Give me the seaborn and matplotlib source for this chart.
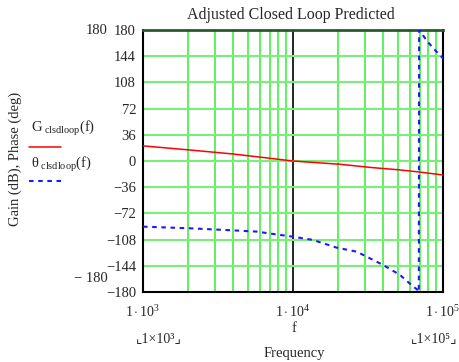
import numpy as np
import pandas as pd
import matplotlib
matplotlib.use("Agg")
import matplotlib.pyplot as plt
import seaborn as sns

# ---- data ----
freq_gain = [1000, 2060, 4000, 7030, 10000, 20600, 34300, 50000, 66800, 100000]
gain_db = [20.8, 15.1, 9.6, 3.7, 0.0, -4.5, -9.2, -12.0, -14.7, -19.2]

freq_phase = [1000, 2060, 2940, 4430, 5730, 7400, 10000, 13600, 19500, 26600, 31000, 40000,
              51700, 63400, 66800, 69000, 69300, 70300, 79000, 86000, 100000]
phase_deg = [-90.2, -92.5, -94.0, -95.8, -97.0, -100.3, -104.0, -108.5, -119.0, -124.6, -131.5,
             -143.0, -156.6, -172.7, -176.0, -180.0, 180.0, 178.0, 164.0, 155.0, 141.0]

y_ticks = [-180, -144, -108, -72, -36, 0, 36, 72, 108, 144, 180]
y_tick_labels = ["\u2212180", "\u2212144", "\u2212108", "\u221272", "\u221236", "0",
                 "36", "72", "108", "144", "180"]
x_ticks = [1e3, 1e4, 1e5]
x_tick_labels = [r"$\mathrm{1\cdot10^{3}}$", r"$\mathrm{1\cdot10^{4}}$", r"$\mathrm{1\cdot10^{5}}$"]

sns.set_style("white")
plt.rcParams["font.family"] = ["Liberation Serif", "DejaVu Sans"]
plt.rcParams["mathtext.fontset"] = "custom"
plt.rcParams["mathtext.rm"] = "Liberation Serif"
plt.rcParams["mathtext.it"] = "Liberation Serif:italic"

W, H = 460, 362
fig = plt.figure(figsize=(W / 100, H / 100), dpi=100)
L, R, T, B = 143, 443, 30, 292
ax = fig.add_axes([L / W, (H - B) / H, (R - L) / W, (B - T) / H])

gdf = pd.DataFrame({"f": freq_gain, "v": gain_db})
pdf = pd.DataFrame({"f": freq_phase, "v": phase_deg})

ax.set_xscale("log")
ax.set_xlim(1e3, 1e5)
ax.set_ylim(-180, 180)

# grid
minor = [m * 10 ** e for e in (3, 4) for m in range(2, 10)]
for xv in minor:
    ax.axvline(xv, color="#44ee44", lw=1.2, zorder=1)
ax.axvline(1e4, color="black", lw=1.2, zorder=1)
for yv in y_ticks[1:-1]:
    ax.axhline(yv, color="#77f077", lw=1.5, zorder=1)

sns.lineplot(data=gdf, x="f", y="v", ax=ax, color="red", lw=1.1, zorder=3, estimator=None, sort=False)
sns.lineplot(data=pdf, x="f", y="v", ax=ax, color="#1a1aff", lw=1.5, zorder=3,
             linestyle=(0, (2.2, 2.2)), estimator=None, sort=False)

ax.set_xticks(x_ticks)
ax.set_xticklabels(x_tick_labels, fontsize=10)
ax.minorticks_off()
ax.set_yticks(y_ticks)
ax.set_yticklabels(y_tick_labels, fontsize=10.5)
ax.tick_params(axis="both", length=0)
ax.tick_params(axis="y", pad=5)
ax.tick_params(axis="x", pad=9)
ax.set_xlabel("")
ax.set_ylabel("")

for side in ("left", "bottom", "right"):
    ax.spines[side].set_color("black")
    ax.spines[side].set_linewidth(1.5)
ax.spines["top"].set_color("#2a5a2a")
ax.spines["top"].set_linewidth(2.0)

def px(x, y):
    return x / W, 1 - y / H

fig.text(*px(291, 15), "Adjusted Closed Loop Predicted", ha="center", va="center", fontsize=11.5)
fig.text(*px(108, 31), "180", ha="right", va="center", fontsize=10.5)
fig.text(*px(108, 278), "\u2212 180", ha="right", va="center", fontsize=10.5)
fig.text(*px(15, 159), "Gain (dB), Phase (deg)", rotation=90, ha="center", va="center", fontsize=10.5)

fig.text(*px(31, 129), r"G$_{\mathrm{\ clsdloop}}$(f)", ha="left", va="center", fontsize=10.5)
fig.add_artist(plt.Line2D([29 / W, 61 / W], [1 - 147 / H, 1 - 147 / H], color="red", lw=1.1))
fig.text(*px(31, 165), r"$\mathrm{\theta}_{\mathrm{\ clsdloop}}$(f)", ha="left", va="center", fontsize=10.5)
fig.add_artist(plt.Line2D([29 / W, 61 / W], [1 - 181 / H, 1 - 181 / H], color="#1a1aff", lw=1.5,
                          linestyle=(0, (2.2, 2.2))))

fig.text(*px(294, 329), "f", ha="center", va="center", fontsize=10.5)
fig.text(*px(159, 339), "\u231e1\u00d710\u00b3\u231f", ha="center", va="center", fontsize=10)
fig.text(*px(434, 339), "\u231e1\u00d710\u2075\u231f", ha="center", va="center", fontsize=10)
fig.text(*px(294, 353), "Frequency", ha="center", va="center", fontsize=10.5)

fig.savefig("out.png", dpi=100)
